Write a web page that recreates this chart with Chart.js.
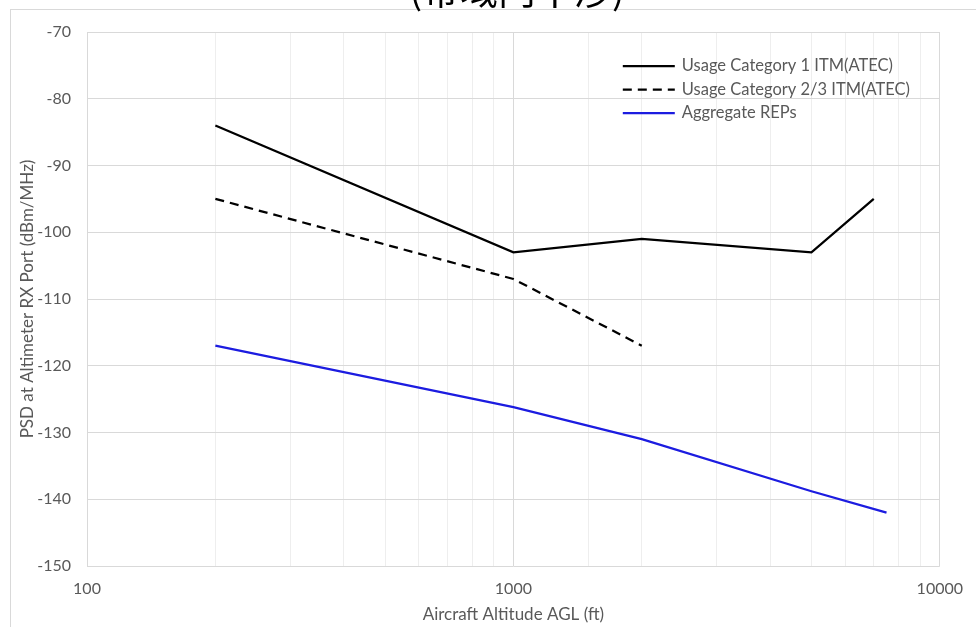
<!DOCTYPE html>
<html>
<head>
<meta charset="utf-8">
<script src="https://cdn.jsdelivr.net/npm/chart.js@4.4.1/dist/chart.umd.min.js"></script>
<style>
  html, body { margin: 0; padding: 0; background: #ffffff; overflow: hidden; }
  #wrap { position: relative; width: 976px; height: 627px; }
</style>
</head>
<body>
<div id="wrap"><canvas id="chart" width="976" height="627"></canvas></div>
<script>
// Altitude (ft) and received PSD (dBm/MHz) for each curve
const seriesNames = [
  'Usage Category 1 ITM(ATEC)',
  'Usage Category 2/3 ITM(ATEC)',
  'Aggregate REPs'
];
const cat1Alt = [200, 1000, 2000, 5000, 7000];
const cat1Psd = [-84, -103, -101, -103, -95];
const cat23Alt = [200, 1000, 2000];
const cat23Psd = [-95, -107, -117];
const repAlt = [200, 1000, 2000, 5000, 7500];
const repPsd = [-117, -126.2, -131, -138.8, -142];

// Axis settings
const xTickLabels = [100, 1000, 10000];
const yMin = -150, yMax = -70, yStep = 10;
const titleText = '(帯域内干渉)';
const xTitle = 'Aircraft Altitude AGL (ft)';
const yTitle = 'PSD at Altimeter RX Port (dBm/MHz)';

const FONT = "Lato, 'Open Sans', 'Noto Sans', sans-serif";
const GREY_TEXT = '#595959';

function toPoints(xs, ys) {
  return xs.map((x, i) => ({ x: x, y: ys[i] }));
}

// Frame, cropped heading and in-plot legend
const decorations = {
  id: 'decorations',
  beforeDraw(chart) {
    const ctx = chart.ctx;
    ctx.save();
    ctx.strokeStyle = '#d9d9d9';
    ctx.lineWidth = 1;
    ctx.beginPath();
    ctx.moveTo(10, 9.5); ctx.lineTo(chart.width, 9.5);
    ctx.moveTo(10.5, 9); ctx.lineTo(10.5, chart.height);
    ctx.stroke();
    ctx.fillStyle = '#000000';
    ctx.font = "38px 'Noto Sans CJK JP', sans-serif";
    ctx.textAlign = 'center';
    ctx.textBaseline = 'alphabetic';
    ctx.fillText(titleText, 517, 4);
    ctx.restore();
  },
  afterDatasetsDraw(chart) {
    const ctx = chart.ctx;
    const area = chart.chartArea;
    const x0 = area.right - 317;
    const lineLen = 52;
    ctx.save();
    ctx.font = '16.5px ' + FONT;
    ctx.textBaseline = 'middle';
    ctx.textAlign = 'left';
    chart.data.datasets.forEach((ds, i) => {
      const y = area.top + 34 + i * 23.5;
      ctx.strokeStyle = ds.borderColor;
      ctx.lineWidth = ds.borderWidth;
      ctx.setLineDash(ds.borderDash || []);
      ctx.beginPath();
      ctx.moveTo(x0, y);
      ctx.lineTo(x0 + lineLen, y);
      ctx.stroke();
      ctx.setLineDash([]);
      ctx.fillStyle = GREY_TEXT;
      ctx.fillText(ds.label, x0 + lineLen + 7, y);
    });
    ctx.restore();
  }
};

const isDecade = v => Math.abs(Math.log10(v) - Math.round(Math.log10(v))) < 1e-9;

new Chart(document.getElementById('chart'), {
  type: 'line',
  data: {
    datasets: [
      {
        label: seriesNames[0],
        data: toPoints(cat1Alt, cat1Psd),
        borderColor: '#000000',
        borderWidth: 2.25,
        pointRadius: 0,
        tension: 0
      },
      {
        label: seriesNames[1],
        data: toPoints(cat23Alt, cat23Psd),
        borderColor: '#000000',
        borderWidth: 2.25,
        borderDash: [9, 6],
        pointRadius: 0,
        tension: 0
      },
      {
        label: seriesNames[2],
        data: toPoints(repAlt, repPsd),
        borderColor: '#1c1ce0',
        borderWidth: 2.25,
        pointRadius: 0,
        tension: 0
      }
    ]
  },
  options: {
    responsive: false,
    animation: false,
    layout: { padding: { left: 10, right: 35, top: 32, bottom: 0 } },
    plugins: {
      legend: { display: false },
      title: { display: false },
      tooltip: { enabled: false }
    },
    scales: {
      x: {
        type: 'logarithmic',
        min: xTickLabels[0],
        max: xTickLabels[xTickLabels.length - 1],
        afterFit: s => { s.height = 61; },
        border: { display: false },
        grid: {
          drawTicks: false,
          color: c => (c.tick && isDecade(c.tick.value)) ? '#d9d9d9' : '#eeeeee',
          lineWidth: 1
        },
        ticks: {
          autoSkip: false,
          maxRotation: 0,
          padding: 13,
          color: GREY_TEXT,
          font: { family: FONT, size: 16 },
          callback: v => xTickLabels.includes(v) ? String(v) : ''
        },
        title: {
          display: true,
          text: xTitle,
          color: GREY_TEXT,
          font: { family: FONT, size: 17 },
          padding: { top: 0, bottom: 2 }
        }
      },
      y: {
        min: yMin,
        max: yMax,
        afterFit: s => { s.width = 77; },
        border: { display: false },
        grid: { drawTicks: false, color: '#d9d9d9', lineWidth: 1 },
        ticks: {
          stepSize: yStep,
          padding: 16,
          color: GREY_TEXT,
          font: { family: FONT, size: 16 }
        },
        title: {
          display: true,
          text: yTitle,
          color: GREY_TEXT,
          font: { family: FONT, size: 17 },
          padding: { top: 7, bottom: 0 }
        }
      }
    }
  },
  plugins: [decorations]
});
</script>
</body>
</html>
